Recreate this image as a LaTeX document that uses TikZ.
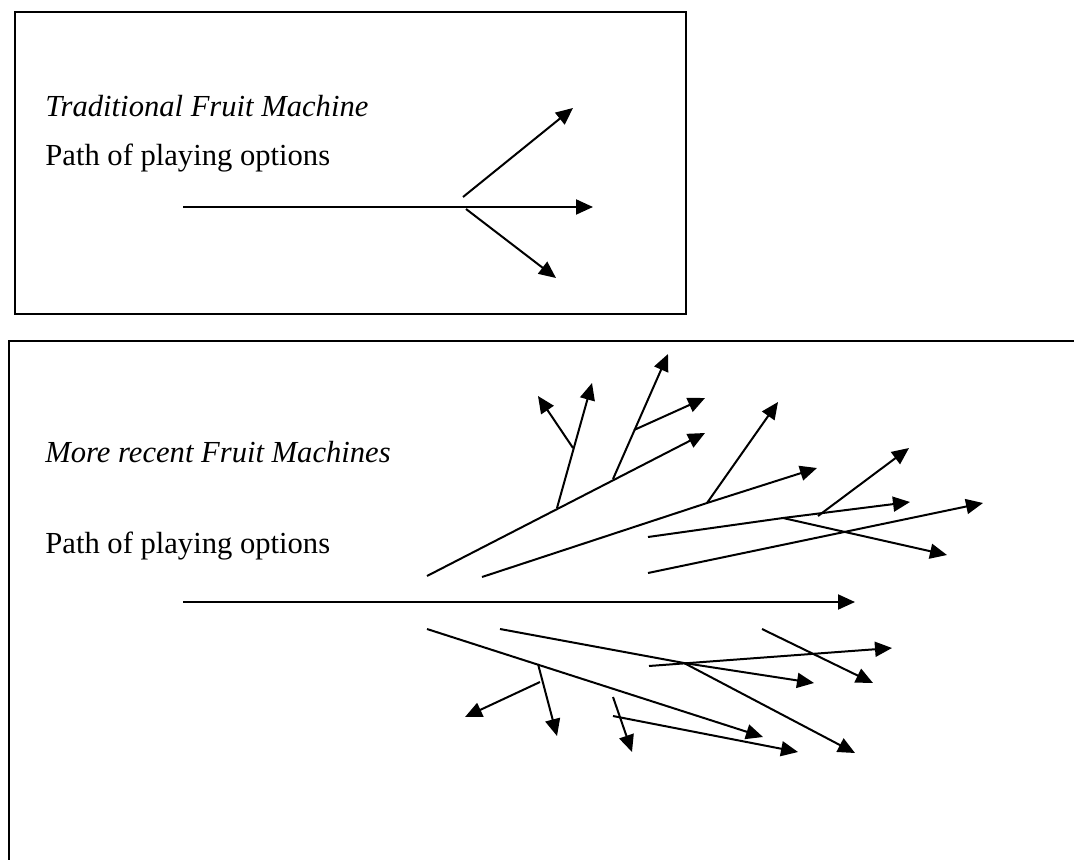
\documentclass[tikz,border=0pt]{standalone}
\usepackage{fontspec}
\setmainfont{Liberation Serif}
\usetikzlibrary{arrows.meta}

\begin{document}
\begin{tikzpicture}[x=0.5pt, y=-0.5pt, >={Triangle[length=8.5pt,width=7.5pt]},
    every node/.style={anchor=base west, inner sep=0pt, font=\fontsize{15.3}{18}\selectfont},
    optline/.style={line width=1pt}]
    \useasboundingbox (0,0) rectangle (1074,860);

    % Traditional machine
    \draw[optline] (15,12) rectangle (686,314);
    \node (tradtitle) at (45,117) {\itshape Traditional Fruit Machine};
    \node (tradpath) at (45,166) {Path of playing options};

    \coordinate (t0) at (183,207);
    \coordinate (t1) at (593,207);
    \draw[->,optline] (t0) -- (t1);
    \draw[->,optline] (463,197) coordinate (tu0) -- (573,108) coordinate (tu1);
    \draw[->,optline] (466,209) coordinate (td0) -- (556,278) coordinate (td1);

    % Recent machines
    \draw[optline] (1074,341) -- (9,341) -- (9,860);
    \node (recenttitle) at (45,462) {\itshape More recent Fruit Machines};
    \node (recentpath) at (45,553) {Path of playing options};

    \coordinate (m0) at (183,602);
    \coordinate (m1) at (855,602);
    \draw[->,optline] (m0) -- (m1);

    % Upper fan
    \coordinate (a0) at (427,576); \coordinate (a1) at (557,508);
    \coordinate (a2) at (613,479); \coordinate (a3) at (705,433);
    \coordinate (a4) at (573,448); \coordinate (a5) at (592,383);
    \coordinate (a6) at (538,396); \coordinate (a7) at (634,430);
    \coordinate (a8) at (668,354); \coordinate (a9) at (705,398);
    \draw[->,optline] (a0) -- (a3);
    \draw[->,optline] (a1) -- (a5);
    \draw[->,optline] (a4) -- (a6);
    \draw[->,optline] (a2) -- (a8);
    \draw[->,optline] (a7) -- (a9);

    \coordinate (b0) at (482,577); \coordinate (b1) at (707,503);
    \coordinate (b2) at (817,468); \coordinate (b3) at (778,402);
    \draw[->,optline] (b0) -- (b1) -- (b2);
    \draw[->,optline] (b1) -- (b3);

    \coordinate (c0) at (648,537); \coordinate (c1) at (783,518);
    \coordinate (c2) at (910,502); \coordinate (c3) at (947,555);
    \coordinate (c4) at (818,516); \coordinate (c5) at (909,448);
    \draw[->,optline] (c0) -- (c1) -- (c2);
    \draw[->,optline] (c1) -- (c3);
    \draw[->,optline] (c4) -- (c5);

    \coordinate (d0) at (648,573); \coordinate (d1) at (983,503);
    \draw[->,optline] (d0) -- (d1);

    % Lower fan
    \coordinate (e0) at (427,629); \coordinate (e1) at (538,664);
    \coordinate (e2) at (763,737); \coordinate (e3) at (557,736);
    \coordinate (e4) at (540,682); \coordinate (e5) at (465,717);
    \draw[->,optline] (e0) -- (e2);
    \draw[->,optline] (e1) -- (e3);
    \draw[->,optline] (e4) -- (e5);

    \coordinate (f0) at (500,629); \coordinate (f1) at (684,663);
    \coordinate (f2) at (814,683); \coordinate (f3) at (855,753);
    \draw[->,optline] (f0) -- (f1) -- (f2);
    \draw[->,optline] (f1) -- (f3);

    \coordinate (g0) at (649,666); \coordinate (g1) at (892,648);
    \draw[->,optline] (g0) -- (g1);
    \coordinate (h0) at (762,629); \coordinate (h1) at (873,683);
    \draw[->,optline] (h0) -- (h1);
    \coordinate (i0) at (613,697); \coordinate (i1) at (632,752);
    \draw[->,optline] (i0) -- (i1);
    \coordinate (j0) at (613,716); \coordinate (j1) at (798,752);
    \draw[->,optline] (j0) -- (j1);
\end{tikzpicture}
\end{document}
